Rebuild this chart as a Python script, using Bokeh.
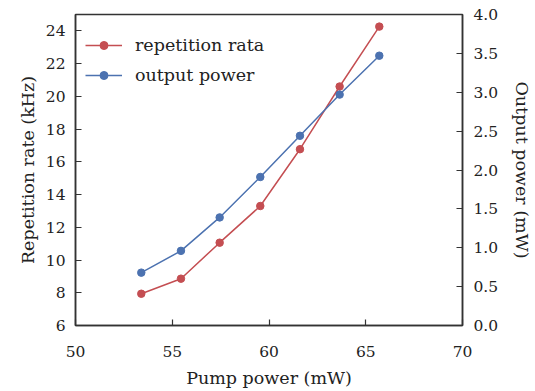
from bokeh.plotting import figure
from bokeh.models import Range1d, LinearAxis, FixedTicker, NumeralTickFormatter, Legend, LegendItem
from bokeh.embed import file_html
from bokeh.resources import INLINE

pump_power = [53.4, 55.45, 57.45, 59.55, 61.6, 63.65, 65.7]
repetition_rate = [7.94, 8.86, 11.06, 13.3, 16.77, 20.6, 24.26]
output_power = [0.68, 0.96, 1.39, 1.91, 2.44, 2.97, 3.47]

x_ticks = [50, 55, 60, 65, 70]
left_ticks = [6, 8, 10, 12, 14, 16, 18, 20, 22, 24]
right_ticks = [0.0, 0.5, 1.0, 1.5, 2.0, 2.5, 3.0, 3.5, 4.0]

RED = "#c44e52"
BLUE = "#4c72b0"
FONT = "DejaVu Serif"
FS_TICK = "15.5px"
FS_LABEL = "17.5px"
AXC = "#333333"

p = figure(width=535, height=391, output_backend="svg", toolbar_location=None,
           x_range=Range1d(50, 70), y_range=Range1d(6, 25),
           min_border_left=75, min_border_right=72, min_border_top=14, min_border_bottom=66)
p.extra_y_ranges = {"power": Range1d(0, 4)}
p.grid.visible = False
p.outline_line_color = AXC
p.outline_line_width = 1.5
p.background_fill_color = "white"
p.border_fill_color = "white"

r1 = p.line(pump_power, repetition_rate, line_color=RED, line_width=1.5)
r1s = p.scatter(pump_power, repetition_rate, size=7.5, fill_color=RED, line_color=RED)
r2 = p.line(pump_power, output_power, line_color=BLUE, line_width=1.5, y_range_name="power")
r2s = p.scatter(pump_power, output_power, size=7.5, fill_color=BLUE, line_color=BLUE, y_range_name="power")

right_axis = LinearAxis(y_range_name="power")
p.add_layout(right_axis, "right")

def style(ax, ticks, label, standoff, label_standoff):
    ax.ticker = FixedTicker(ticks=ticks)
    ax.axis_label = label
    ax.axis_label_text_font = FONT
    ax.axis_label_text_font_size = FS_LABEL
    ax.axis_label_text_font_style = "normal"
    ax.axis_label_text_color = "#222222"
    ax.major_label_text_font = FONT
    ax.major_label_text_font_size = FS_TICK
    ax.major_label_text_color = "#222222"
    ax.axis_line_color = AXC
    ax.axis_line_width = 1.5
    ax.major_tick_line_color = AXC
    ax.major_tick_line_width = 1.2
    ax.major_tick_in = 6
    ax.major_tick_out = 0
    ax.minor_tick_line_color = None
    ax.major_label_standoff = standoff
    ax.axis_label_standoff = label_standoff

style(p.xaxis[0], x_ticks, "Pump power (mW)", 20, 8)
style(p.yaxis[0], left_ticks, "Repetition rate (kHz)", 10, 5)
style(right_axis, right_ticks, "Output power (mW)", 11, 11)
right_axis.formatter = NumeralTickFormatter(format="0.0")
right_axis.axis_label_orientation = "vertical"

legend = Legend(items=[LegendItem(label="repetition rata", renderers=[r1, r1s]),
                       LegendItem(label="output power", renderers=[r2, r2s])],
                location=(10, 240))
legend.label_text_font = FONT
legend.label_text_font_size = FS_LABEL
legend.label_text_color = "#222222"
legend.border_line_color = None
legend.background_fill_alpha = 0
legend.glyph_width = 37
legend.glyph_height = 20
legend.label_height = 20
legend.spacing = 10
legend.margin = 0
legend.padding = 6
legend.label_standoff = 13
p.add_layout(legend)

open("out.html", "w").write(file_html(p, INLINE))
